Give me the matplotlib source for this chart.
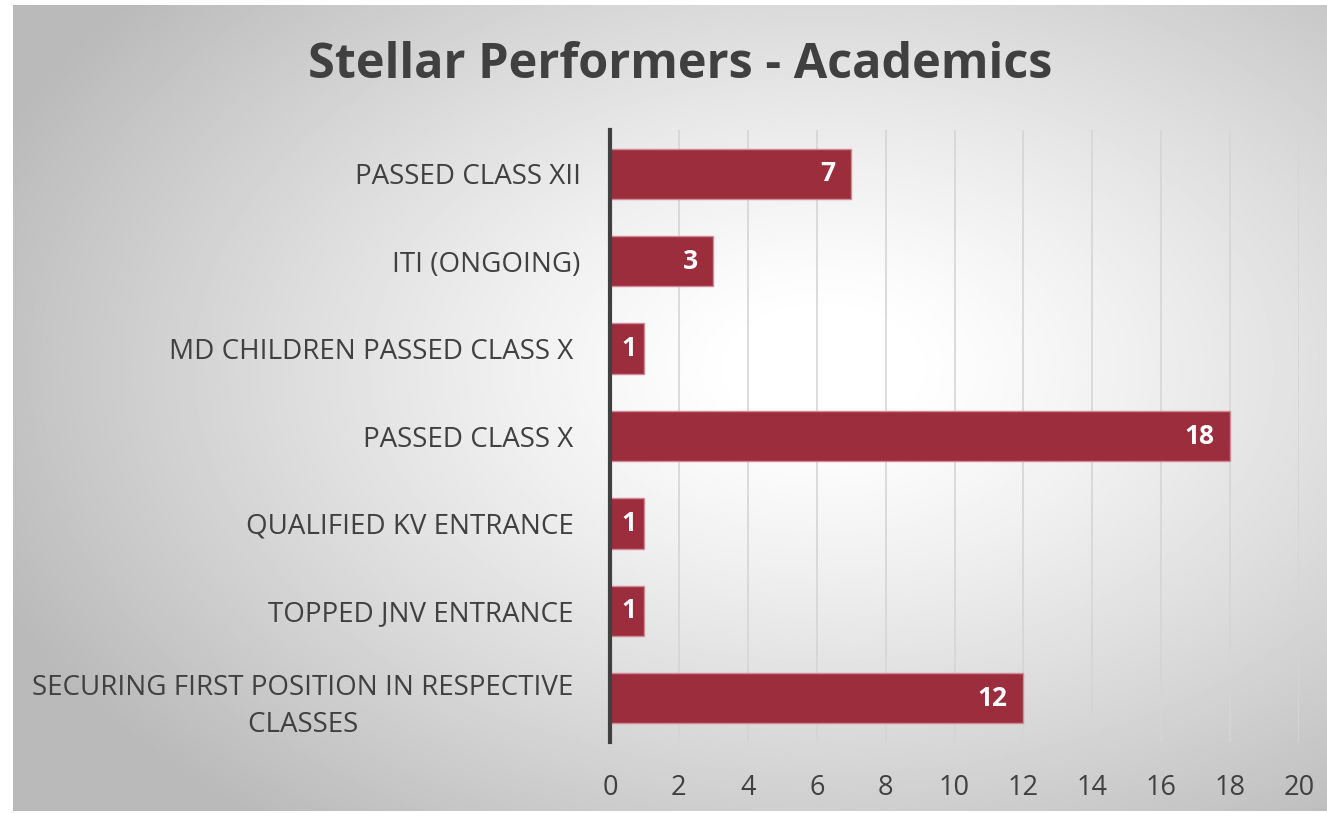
import matplotlib.pyplot as plt
import numpy as np

categories = ['PASSED CLASS XII', 'ITI (ONGOING)', 'MD CHILDREN PASSED CLASS X ',
              'PASSED CLASS X ', 'QUALIFIED KV ENTRANCE ', 'TOPPED JNV ENTRANCE ',
              'SECURING FIRST POSITION IN RESPECTIVE \nCLASSES ']
values = [7, 3, 1, 18, 1, 1, 12]
xticks = list(range(0, 21, 2))

W, H = 1327, 813
fig = plt.figure(figsize=(W / 100, H / 100), dpi=100)

# background panel with radial gradient
bg = fig.add_axes([13 / W, 2 / H, (W - 13) / W, (H - 7) / H])
yy, xx = np.mgrid[0:400, 0:650]
cx, cy = 400, 180
r = np.sqrt(((xx - cx) / 650) ** 2 + ((yy - cy) / 420) ** 2)
shade = 1.0 - 0.27 * np.clip((r - 0.06) / 0.62, 0, 1) ** 1.2
bg.imshow(shade, cmap='gray', vmin=0, vmax=1, aspect='auto', extent=[0, 1, 0, 1])
bg.set_axis_off()

ax = fig.add_axes([610 / W, 1 - 742 / H, (1299 - 610) / W, (742 - 130) / H])
ax.patch.set_alpha(0)
y = np.arange(len(categories))
bars = ax.barh(y, values, height=0.575, color='#9b2d3d', edgecolor='#d08a96',
               linewidth=1, zorder=3)
for b, v in zip(bars, values):
    yc = b.get_y() + b.get_height() / 2
    if v < 2:
        # too short for inside-end, label sits in the middle
        ax.text(v / 2 + 0.05, yc, str(v), ha='center', va='center',
                color='white', fontsize=19, fontweight='bold', family='Open Sans', zorder=4)
    else:
        ax.text(v - 0.45, yc, str(v), ha='right', va='center',
                color='white', fontsize=19, fontweight='bold', family='Open Sans', zorder=4)

ax.set_xlim(0, 20)
ax.set_ylim(len(categories) - 0.5, -0.5)
ax.set_xticks(xticks)
ax.set_xticklabels([str(t) for t in xticks])
ax.set_yticks(y)
ax.set_yticklabels(categories, ha='right', multialignment='center', linespacing=1.45)
ax.grid(axis='x', color='#d5d5d5', linewidth=1.2, zorder=0)
for s in ['top', 'right', 'bottom']:
    ax.spines[s].set_visible(False)
ax.spines['left'].set_color('#404040')
ax.spines['left'].set_linewidth(3)
ax.spines['left'].set_zorder(5)
ax.tick_params(axis='both', length=0, colors='#404040', labelsize=19.5)
ax.tick_params(axis='y', labelsize=20)
ax.tick_params(axis='x', pad=23)
ax.tick_params(axis='y', pad=21)
for lbl in ax.get_xticklabels() + ax.get_yticklabels():
    lbl.set_family('Open Sans')

fig.text(680 / W, 1 - 65 / H, 'Stellar Performers - Academics', ha='center', va='center',
         fontsize=35, fontweight='bold', color='#404040', family='Open Sans')

fig.savefig('out.png', dpi=100, facecolor='white')
